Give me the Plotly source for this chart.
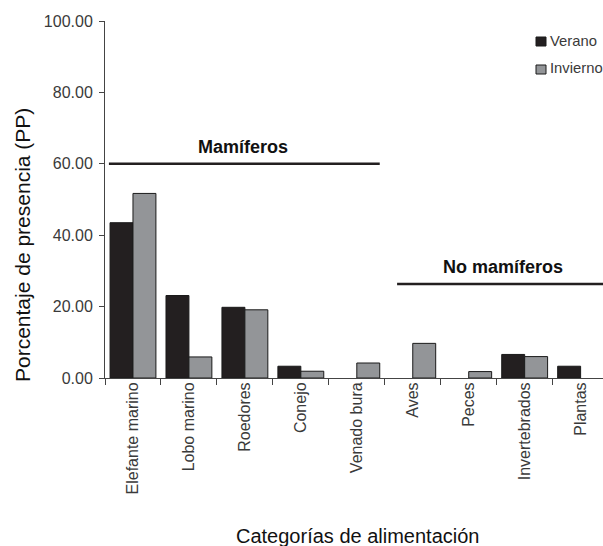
import plotly.graph_objects as go

categories = ["Elefante marino", "Lobo marino", "Roedores", "Conejo", "Venado bura",
              "Aves", "Peces", "Invertebrados", "Plantas"]
verano = [43.5, 23.1, 19.8, 3.3, 0.0, 0.0, 0.0, 6.6, 3.3]
invierno = [51.7, 5.9, 19.1, 1.9, 4.2, 9.7, 1.8, 6.0, 0.0]
series_names = ["Verano", "Invierno"]
series_colors = ["#231f20", "#939598"]
y_ticks = [0, 20, 40, 60, 80, 100]
y_tick_labels = ["0.00", "20.00", "40.00", "60.00", "80.00", "100.00"]

FONT = "Liberation Sans, Arial, sans-serif"
TXT = "#3a3a3a"

# plot-area geometry (pixels) for paper-coordinate placement
L, R, T, B = 105, 603, 21, 378


def px(x):
    return (x - L) / (R - L)


def py(y):
    return (B - y) / (B - T)


fig = go.Figure()
for name, vals, col in zip(series_names, [verano, invierno], series_colors):
    fig.add_trace(go.Bar(x=categories, y=vals, name=name, showlegend=False,
                         marker=dict(color=col,
                                     line=dict(color="#1a1a1a",
                                               width=[1 if v > 0 else 0 for v in vals]))))

# group brackets
fig.add_shape(type="line", x0=-0.43, x1=4.41, y0=60, y1=60, xref="x", yref="y",
              line=dict(color="#231f20", width=2.5))
fig.add_shape(type="line", x0=4.72, x1=8.6, y0=26.3, y1=26.3, xref="x", yref="y",
              line=dict(color="#231f20", width=2.5))
fig.add_annotation(x=1.97, y=60, xref="x", yref="y", text="<b>Mamíferos</b>",
                   showarrow=False, yanchor="bottom", yshift=5,
                   font=dict(family=FONT, size=18, color="#111111"))
fig.add_annotation(x=6.61, y=26.3, xref="x", yref="y", text="<b>No mamíferos</b>",
                   showarrow=False, yanchor="bottom", yshift=5,
                   font=dict(family=FONT, size=18, color="#111111"))

# legend (keys + labels)
legend_rows = [(37, 46, 40.5), (65, 74, 68)]
for (y0, y1, yt), name, col in zip(legend_rows, series_names, series_colors):
    fig.add_shape(type="rect", xref="paper", yref="paper",
                  x0=px(536), x1=px(546), y0=py(y1), y1=py(y0),
                  fillcolor=col, line=dict(color="#1a1a1a", width=1))
    fig.add_annotation(x=px(548), y=py(yt), xref="paper", yref="paper", text=name,
                       showarrow=False, xanchor="left", yanchor="middle",
                       font=dict(family=FONT, size=14.8, color=TXT))

# axis titles
fig.add_annotation(x=px(22), y=py(245), xref="paper", yref="paper",
                   text="Porcentaje de presencia (PP)", textangle=-90, showarrow=False,
                   xanchor="center", yanchor="middle",
                   font=dict(family=FONT, size=21, color="#111111"))
fig.add_annotation(x=px(357), y=py(536), xref="paper", yref="paper",
                   text="Categorías de alimentación", showarrow=False,
                   xanchor="center", yanchor="middle",
                   font=dict(family=FONT, size=20, color="#111111"))

fig.update_layout(
    width=603, height=546,
    margin=dict(l=L, r=603 - R, t=T, b=546 - B, autoexpand=False),
    paper_bgcolor="white", plot_bgcolor="white",
    showlegend=False,
    barmode="group", bargap=0.18, bargroupgap=0,
    font=dict(family=FONT, size=15, color=TXT),
    xaxis=dict(range=[-0.5, 8.4], showline=True, linecolor="#444444", linewidth=1,
               ticks="outside", ticklen=6, tickcolor="#444444", tickson="boundaries",
               tickangle=-90, ticklabelstandoff=-3,
               tickfont=dict(family=FONT, size=16, color=TXT),
               showgrid=False, zeroline=False),
    yaxis=dict(range=[0, 100], tickvals=y_ticks, ticktext=y_tick_labels,
               showline=True, linecolor="#444444", linewidth=1,
               ticks="outside", ticklen=5, tickcolor="#444444", ticklabelstandoff=3,
               tickfont=dict(family=FONT, size=16, color=TXT),
               showgrid=False, zeroline=False),
)

fig.write_html("out.html", config={"displayModeBar": False},
               post_script="document.body.style.margin='0';document.body.style.overflow='hidden';")
